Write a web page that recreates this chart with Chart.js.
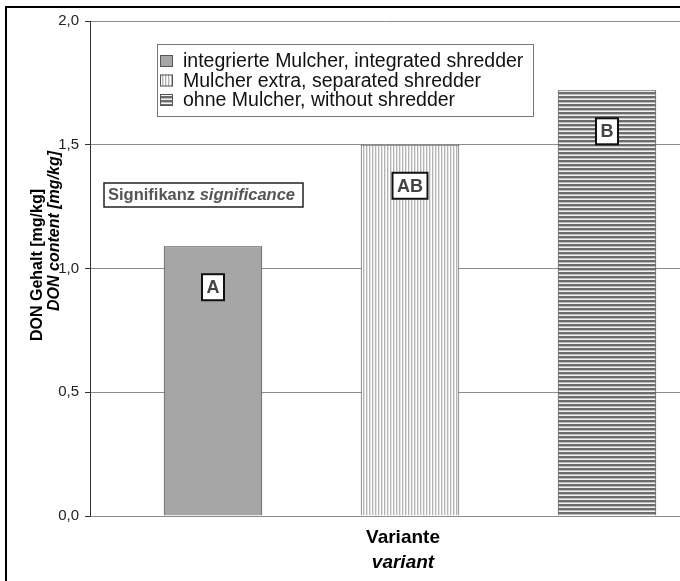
<!DOCTYPE html>
<html>
<head>
<meta charset="utf-8">
<script src="https://cdn.jsdelivr.net/npm/chart.js@4.4.1/dist/chart.umd.min.js"></script>
<style>
  html, body { margin: 0; padding: 0; background: #fff; }
  #wrap { position: relative; width: 680px; height: 581px; overflow: hidden; }
  #frame { position: absolute; left: 5px; top: 6px; width: 720px; height: 620px;
           border-left: 2px solid #000; border-top: 2px solid #000; pointer-events: none; }
</style>
</head>
<body>
<div id="wrap">
  <canvas id="donChart" width="680" height="581"></canvas>
  <div id="frame"></div>
</div>
<script>
const FONT = '"Liberation Sans", Arial, sans-serif';

// chart data
const variants = ['integrierte Mulcher, integrated shredder', 'Mulcher extra, separated shredder', 'ohne Mulcher, without shredder'];
const variantPos = [1, 2, 3];
const donValues = [1.09, 1.50, 1.72];
const sigLetters = ['A', 'AB', 'B'];
const yTickValues = [0, 0.5, 1.0, 1.5, 2.0];

// hatch patterns like the old excel fills
function makePattern(kind) {
    const c = document.createElement('canvas');
    const g = c.getContext('2d');
    if (kind === 'solid') {
        c.width = 1; c.height = 1;
        g.fillStyle = '#a6a6a6';
        g.fillRect(0, 0, 1, 1);
    } else if (kind === 'vertical') {
        c.width = 3; c.height = 1;
        g.fillStyle = '#ffffff'; g.fillRect(0, 0, 3, 1);
        g.fillStyle = '#b4b4b4'; g.fillRect(0, 0, 1, 1);
        g.fillStyle = '#e4e4e4'; g.fillRect(1, 0, 1, 1);
    } else {
        c.width = 1; c.height = 4;
        g.fillStyle = '#f2f2f2'; g.fillRect(0, 0, 1, 4);
        g.fillStyle = '#6c6c6c'; g.fillRect(0, 0, 1, 2);
        g.fillStyle = '#bdbdbd'; g.fillRect(0, 2, 1, 1);
    }
    return g.createPattern(c, 'repeat');
}
const fills = [makePattern('solid'), makePattern('vertical'), makePattern('horizontal')];
const borders = ['#3c3c3c', '#555555', '#444444'];

const annotations = {
    id: 'annotations',
    afterDraw(chart) {
        const ctx = chart.ctx;
        const meta = chart.getDatasetMeta(0);
        ctx.save();

        // legend box
        ctx.fillStyle = '#fff';
        ctx.fillRect(157.5, 44.5, 376, 72);
        ctx.strokeStyle = '#777';
        ctx.lineWidth = 1;
        ctx.strokeRect(157.5, 44.5, 376, 72);
        ctx.font = '19.5px ' + FONT;
        ctx.textBaseline = 'alphabetic';
        ctx.textAlign = 'left';
        variants.forEach((name, i) => {
            const base = 67 + i * 19.5;
            ctx.fillStyle = fills[i];
            ctx.fillRect(160, base - 12, 13, 12);
            ctx.strokeStyle = '#555';
            ctx.strokeRect(160.5, base - 11.5, 12, 11);
            ctx.fillStyle = '#111';
            ctx.fillText(name, 183, base);
        });

        // significance box
        ctx.fillStyle = '#fff';
        ctx.fillRect(104, 183, 199, 24);
        ctx.strokeStyle = '#222';
        ctx.lineWidth = 1.5;
        ctx.strokeRect(104, 183, 199, 24);
        ctx.fillStyle = '#555';
        ctx.font = 'bold 16.5px ' + FONT;
        ctx.textBaseline = 'middle';
        const w1 = ctx.measureText('Signifikanz ').width;
        ctx.fillText('Signifikanz ', 108, 195.5);
        ctx.font = 'italic bold 16.5px ' + FONT;
        ctx.fillText('significance', 108 + w1, 195.5);

        // letters inside bars
        ctx.font = 'bold 18px ' + FONT;
        ctx.textAlign = 'center';
        meta.data.forEach((bar, i) => {
            const label = sigLetters[i];
            const tw = ctx.measureText(label).width;
            const bw = tw + 9, bh = 26;
            const cy = bar.y + 41;
            ctx.fillStyle = '#fff';
            ctx.fillRect(bar.x - bw / 2, cy - bh / 2, bw, bh);
            ctx.strokeStyle = '#111';
            ctx.lineWidth = 2;
            ctx.strokeRect(bar.x - bw / 2, cy - bh / 2, bw, bh);
            ctx.fillStyle = '#444';
            ctx.fillText(label, bar.x, cy + 1);
        });

        // axis titles
        ctx.fillStyle = '#000';
        ctx.font = 'bold 19px ' + FONT;
        ctx.fillText('Variante', 403, 538);
        ctx.font = 'italic bold 19px ' + FONT;
        ctx.fillText('variant', 403, 563);

        ctx.save();
        ctx.translate(38, 265);
        ctx.rotate(-Math.PI / 2);
        ctx.font = 'bold 16px ' + FONT;
        ctx.fillText('DON Gehalt [mg/kg]', 0, 0);
        ctx.restore();
        ctx.save();
        ctx.translate(55, 231);
        ctx.rotate(-Math.PI / 2);
        ctx.font = 'italic bold 16px ' + FONT;
        ctx.fillText('DON content [mg/kg]', 0, 0);
        ctx.restore();

        ctx.restore();
    }
};

const canvas = document.getElementById('donChart');
const chart = new Chart(canvas.getContext('2d'), {
    type: 'bar',
    data: {
        datasets: [{
            data: variantPos.map((x, i) => ({ x: x, y: donValues[i] })),
            backgroundColor: fills,
            borderColor: borders,
            borderWidth: 1,
            categoryPercentage: 1.0,
            barPercentage: 0.5
        }]
    },
    options: {
        responsive: false,
        animation: false,
        devicePixelRatio: 1,
        layout: { padding: { top: 21, right: 0, bottom: 0, left: 0 } },
        plugins: { legend: { display: false }, tooltip: { enabled: false } },
        scales: {
            x: {
                type: 'linear',
                offset: false,
                min: 0.3756,
                max: 3.3706,
                grid: { display: false },
                border: { display: false },
                afterBuildTicks(scale) { scale.ticks = variantPos.map(v => ({ value: v })); },
                ticks: { display: false },
                afterFit(scale) { scale.height = 65; }
            },
            y: {
                min: 0,
                max: 2,
                grid: { color: '#8c8c8c', lineWidth: 1, tickLength: 5, tickColor: '#333' },
                border: { color: '#333', width: 1 },
                afterBuildTicks(scale) { scale.ticks = yTickValues.map(v => ({ value: v })); },
                ticks: {
                    padding: 6,
                    color: '#222',
                    font: { family: FONT, size: 15 },
                    callback: v => v.toFixed(1).replace('.', ',')
                },
                afterFit(scale) { scale.width = 90; }
            }
        }
    },
    plugins: [annotations]
});
</script>
</body>
</html>
